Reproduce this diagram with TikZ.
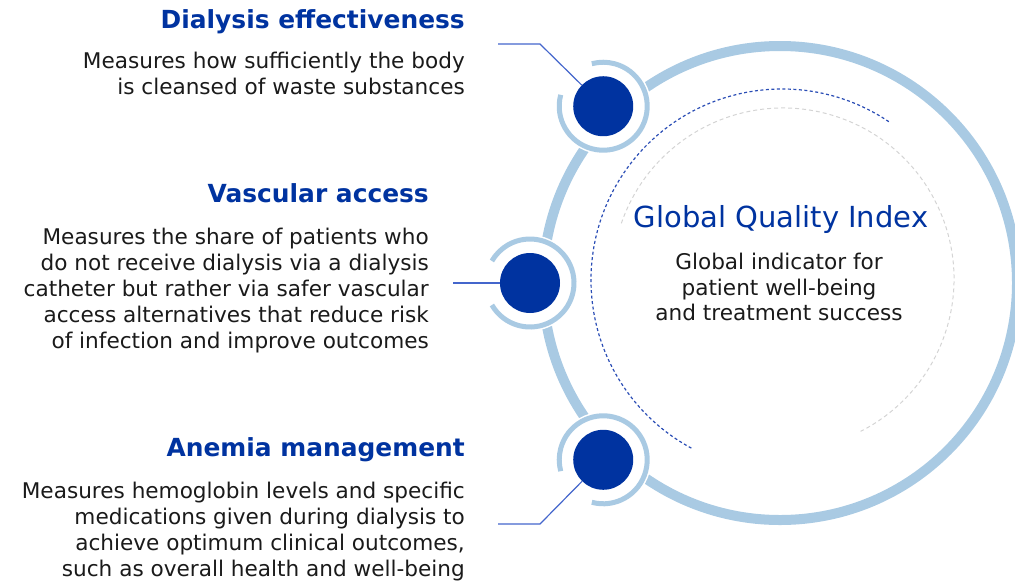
\documentclass[tikz,border=0pt]{standalone}
\usepackage{fontspec}
\setmainfont{DejaVu Sans}
\usetikzlibrary{calc}
\definecolor{dotblue}{HTML}{0033A0}
\definecolor{ringblue}{HTML}{A9CAE3}
\definecolor{connblue}{HTML}{4466CC}
\definecolor{dashblue}{HTML}{2A4DB5}
\definecolor{dashgrey}{HTML}{D4D4D4}
\definecolor{textblack}{HTML}{1A1A1A}
\newcommand\bdyfont{\fontsize{21.6}{25.9}\selectfont}
\newcommand\ttlfont{\fontsize{24.9}{28}\selectfont\bfseries}
\newcommand\bigttlfont{\fontsize{29}{33}\selectfont}
\tikzset{
  bigring/.style={draw=ringblue, line width=10pt},
  dotnode/.style={circle, fill=dotblue, minimum size=60pt, inner sep=0pt, draw=none},
  halo/.style={draw=ringblue, line width=5pt},
  conn/.style={draw=connblue, line width=1.2pt},
  bluedash/.style={draw=dashblue, line width=1.2pt, dash pattern=on 3pt off 2.5pt},
  greydash/.style={draw=dashgrey, line width=1pt, dash pattern=on 4pt off 3pt},
  ttl/.style={font=\ttlfont, text=dotblue, anchor=base east, inner sep=0pt},
  bodytext/.style={font=\bdyfont, text=textblack, align=right, anchor=north east, inner sep=0pt},
}
\begin{document}
\begin{tikzpicture}[x=1pt,y=1pt]
\useasboundingbox (0,0) rectangle (1015,-582);
\clip (0,0) rectangle (1015,-582);
\coordinate (C) at (780,-283);
\draw[bigring] (C) circle[radius=237pt];
\coordinate (D) at (782,-280);
\draw[bluedash] ($(D)+(56:191pt)$) arc[start angle=56, end angle=242, radius=191pt];
\coordinate (G) at (783,-279);
\draw[greydash] ($(G)+(161:171pt)$) arc[start angle=161, end angle=-63, radius=171pt];
% white backgrounds of the dots
\coordinate (p1) at ($(C)+(135:250pt)$);
\coordinate (p2) at ($(C)+(180:250pt)$);
\coordinate (p3) at ($(C)+(225:250pt)$);
\fill[white] (p1) circle[radius=48pt];
\fill[white] (p2) circle[radius=48pt];
\fill[white] (p3) circle[radius=48pt];
\node[dotnode] (dot1) at (p1) {};
\node[dotnode] (dot2) at (p2) {};
\node[dotnode] (dot3) at (p3) {};
% halos
\draw[halo] ($(dot1)+(165:44pt)$) arc[start angle=165, end angle=465, radius=44pt];
\draw[halo] ($(dot2)+(210:44pt)$) arc[start angle=210, end angle=510, radius=44pt];
\draw[halo] ($(dot3)+(255:44pt)$) arc[start angle=255, end angle=555, radius=44pt];
% connectors
\coordinate (d0) at (498,-44);
\coordinate (d1) at (540,-44);
\draw[conn] (d0) -- (d1) -- (dot1);
\coordinate (v0) at (453,-283);
\draw[conn] (v0) -- (dot2);
\coordinate (a0) at (498,-524);
\coordinate (a1) at (540,-524);
\draw[conn] (a0) -- (a1) -- (dot3);
% texts
\node[ttl] (t1) at (465,-28.5) {Dialysis effectiveness};
\node[bodytext] (b1) at (465,-52) {Measures how sufficiently the body\\is cleansed of waste substances};
\node[ttl] (t2) at (429,-202.3) {Vascular access};
\node[bodytext] (b2) at (429,-227.8) {Measures the share of patients who\\do not receive dialysis via a dialysis\\catheter but rather via safer vascular\\access alternatives that reduce risk\\of infection and improve outcomes};
\node[ttl] (t3) at (465,-456) {Anemia management};
\node[bodytext] (b3) at (465,-482) {Measures hemoglobin levels and specific\\medications given during dialysis to\\achieve optimum clinical outcomes,\\such as overall health and well-being};
\node[font=\bigttlfont, text=dotblue, anchor=base, inner sep=0pt] (gq) at (781,-227) {Global Quality Index};
\node[font=\bdyfont, text=textblack, align=center, anchor=north, inner sep=0pt] (gs) at (779,-252.5) {Global indicator for\\patient well-being\\and treatment success};
\end{tikzpicture}
\end{document}
